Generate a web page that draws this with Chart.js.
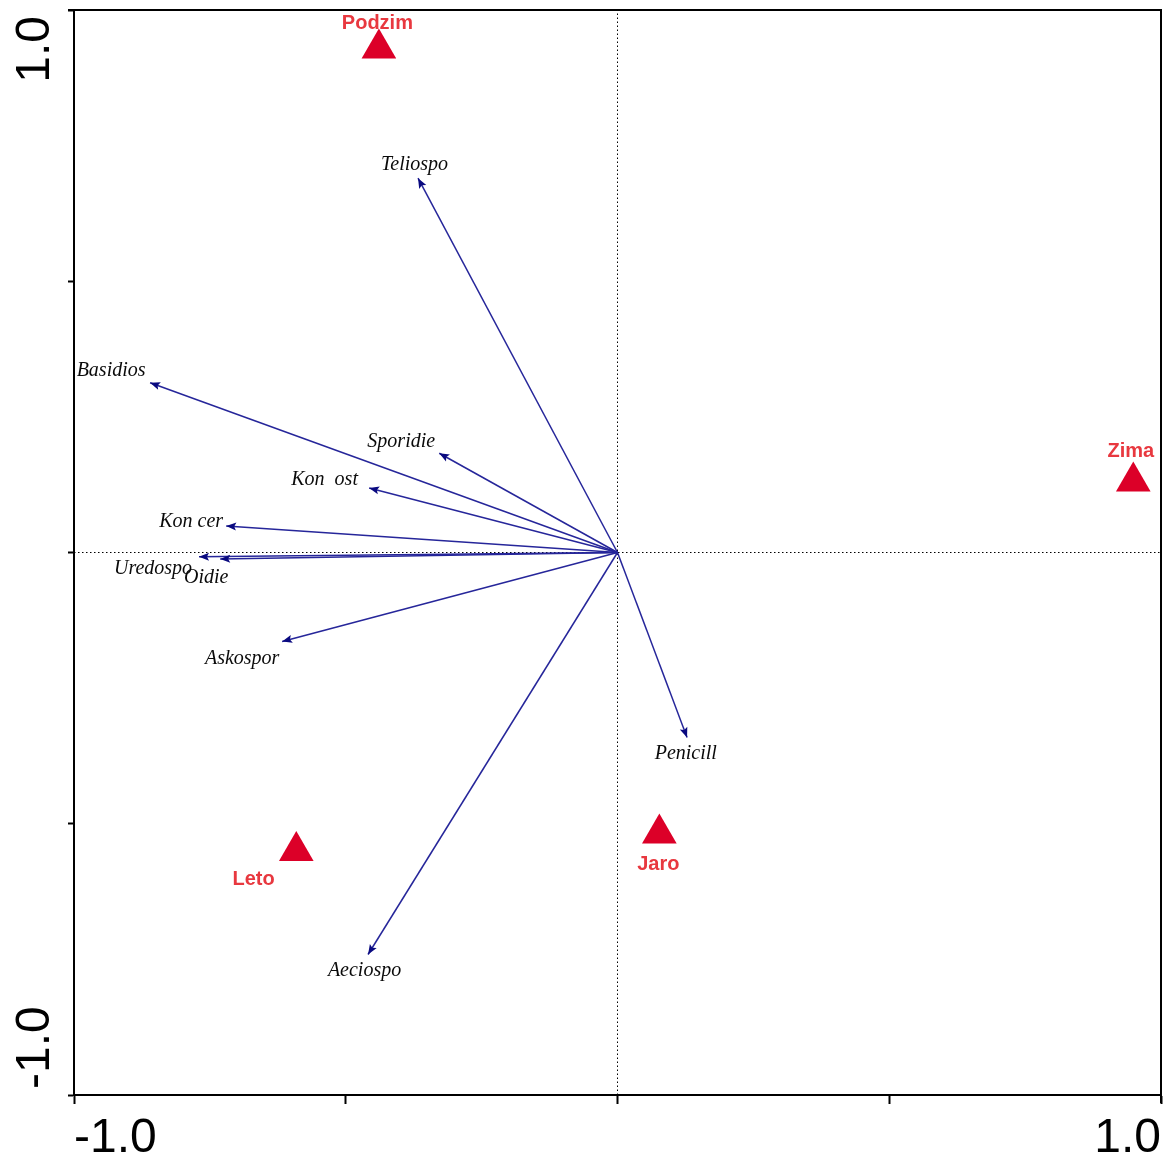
<!DOCTYPE html>
<html>
<head>
<meta charset="utf-8">
<script src="https://cdn.jsdelivr.net/npm/chart.js@4.4.1/dist/chart.umd.min.js"></script>
<style>
  body { margin: 0; background: #fff; }
  #wrap { width: 1170px; height: 1162px; }
</style>
</head>
<body>
<div id="wrap"><canvas id="myChart" width="1170" height="1162"></canvas></div>
<script>
// species arrows (biplot scores)
const species = ["Teliospo", "Basidios", "Sporidie", "Kon  ost", "Kon cer", "Uredospo", "Oidie", "Askospor", "Aeciospo", "Penicill"];
const speciesX = [-0.367, -0.860, -0.328, -0.457, -0.720, -0.770, -0.731, -0.617, -0.459, 0.128];
const speciesY = [0.690, 0.313, 0.183, 0.119, 0.049, -0.008, -0.012, -0.164, -0.741, -0.341];

// seasons (sample centroids)
const seasons = ["Podzim", "Zima", "Jaro", "Leto"];
const seasonX = [-0.439, 0.949, 0.077, -0.591];
const seasonY = [0.929, 0.131, -0.518, -0.550];

const tickValues = [-1, -0.5, 0, 0.5, 1];
const tickLabels = ["-1.0", "", "", "", "1.0"];

// label nudges in px, so the names sit where canoco put them
const speciesNudge = [[-3.5, -13], [-39, -12], [-38, -11], [-44.5, -8], [-35, -4.5], [-46, 12], [-14, 19], [-40, 17], [-3.5, 16.5], [-1.3, 16.7]];
const seasonNudge = [[-1.5, -25], [-2.5, -30], [-1, 31], [-42.7, 29]];

const arrowColor = "#26269a";
const headColor = "#0a0a80";
const seasonColor = "#dc0028";

function labelFor(v) {
  const i = tickValues.indexOf(v);
  return i >= 0 ? tickLabels[i] : "";
}

const datasets = [];

datasets.push({
  kind: "season",
  data: seasons.map((s, i) => ({ x: seasonX[i], y: seasonY[i] })),
  pointStyle: "triangle",
  pointRadius: 20,
  backgroundColor: seasonColor,
  borderColor: seasonColor,
  borderWidth: 0,
  showLine: false
});

species.forEach((s, i) => {
  datasets.push({
    kind: "arrow",
    idx: i,
    data: [{ x: 0, y: 0 }, { x: speciesX[i], y: speciesY[i] }],
    showLine: true,
    borderColor: arrowColor,
    borderWidth: 1.5,
    pointRadius: 0
  });
});

// dotted zero lines
datasets.push({
  data: [{ x: -1, y: 0 }, { x: 1, y: 0 }],
  showLine: true, borderColor: "#000", borderWidth: 1, borderDash: [1.5, 2.5], pointRadius: 0
});
datasets.push({
  data: [{ x: 0, y: -1 }, { x: 0, y: 1 }],
  showLine: true, borderColor: "#000", borderWidth: 1, borderDash: [1.5, 2.5], pointRadius: 0
});

const decor = {
  id: "decor",
  afterDatasetsDraw(chart) {
    const ctx = chart.ctx;
    chart.data.datasets.forEach((ds, di) => {
      const meta = chart.getDatasetMeta(di);
      if (ds.kind === "arrow") {
        const p0 = meta.data[0], p1 = meta.data[1];
        const a = Math.atan2(p1.y - p0.y, p1.x - p0.x);
        const len = 10, half = 4;
        ctx.save();
        ctx.fillStyle = headColor;
        ctx.translate(p1.x, p1.y);
        ctx.rotate(a);
        ctx.beginPath();
        ctx.moveTo(0, 0);
        ctx.lineTo(-len, -half);
        ctx.lineTo(-len + 2, 0);
        ctx.lineTo(-len, half);
        ctx.closePath();
        ctx.fill();
        ctx.restore();

        const n = speciesNudge[ds.idx];
        ctx.save();
        ctx.font = 'italic 20px "Liberation Serif"';
        ctx.fillStyle = "#0a0a0a";
        ctx.textAlign = "center";
        ctx.textBaseline = "middle";
        ctx.fillText(species[ds.idx], p1.x + n[0], p1.y + n[1]);
        ctx.restore();
      }
      if (ds.kind === "season") {
        ctx.save();
        ctx.font = 'bold 20px "Liberation Sans"';
        ctx.fillStyle = "#e8383f";
        ctx.textAlign = "center";
        ctx.textBaseline = "middle";
        meta.data.forEach((p, i) => {
          const n = seasonNudge[i];
          ctx.fillText(seasons[i], p.x + n[0], p.y + n[1]);
        });
        ctx.restore();
      }
    });
  },
  afterDraw(chart) {
    const ctx = chart.ctx;
    const area = chart.chartArea;
    ctx.save();
    ctx.strokeStyle = "#000";
    ctx.lineWidth = 2;
    ctx.beginPath();
    ctx.moveTo(area.left - 6, area.top);
    ctx.lineTo(area.right, area.top);
    ctx.lineTo(area.right, area.bottom + 8);
    ctx.stroke();

    // y tick labels, rotated like the original
    const ys = chart.scales.y;
    ctx.font = '48px "Liberation Sans"';
    ctx.fillStyle = "#000";
    ctx.textBaseline = "alphabetic";
    [[1, "right", 6], [-1, "left", -6]].forEach(([v, align, shift]) => {
      ctx.save();
      ctx.translate(49, ys.getPixelForValue(v) + shift);
      ctx.rotate(-Math.PI / 2);
      ctx.textAlign = align;
      ctx.fillText(labelFor(v), 0, 0);
      ctx.restore();
    });
    ctx.restore();
  }
};

new Chart(document.getElementById("myChart"), {
  type: "scatter",
  data: { datasets: datasets },
  plugins: [decor],
  options: {
    responsive: false,
    animation: false,
    devicePixelRatio: 1,
    layout: { autoPadding: false, padding: { top: 10, right: 9, left: 0, bottom: 0 } },
    plugins: { legend: { display: false }, tooltip: { enabled: false } },
    scales: {
      x: {
        min: -1, max: 1,
        afterBuildTicks: (scale) => { scale.ticks = tickValues.map(v => ({ value: v })); },
        afterFit: (scale) => {
          scale.height = 67;
          scale.paddingLeft = 0;
          scale.paddingRight = 0;
        },
        ticks: {
          callback: (v) => labelFor(v),
          align: "inner",
          maxRotation: 0,
          autoSkip: false,
          padding: 6,
          color: "#000",
          font: { family: "Liberation Sans", size: 48 }
        },
        grid: { drawOnChartArea: false, tickLength: 9, tickColor: "#000", tickWidth: 2 },
        border: { display: true, color: "#000", width: 2 }
      },
      y: {
        min: -1, max: 1,
        afterBuildTicks: (scale) => { scale.ticks = tickValues.map(v => ({ value: v })); },
        afterFit: (scale) => {
          scale.width = 74;
          scale.paddingTop = 0;
          scale.paddingBottom = 0;
        },
        ticks: { display: false },
        grid: { drawOnChartArea: false, tickLength: 6, tickColor: "#000", tickWidth: 2 },
        border: { display: true, color: "#000", width: 2 }
      }
    }
  }
});
</script>
</body>
</html>
